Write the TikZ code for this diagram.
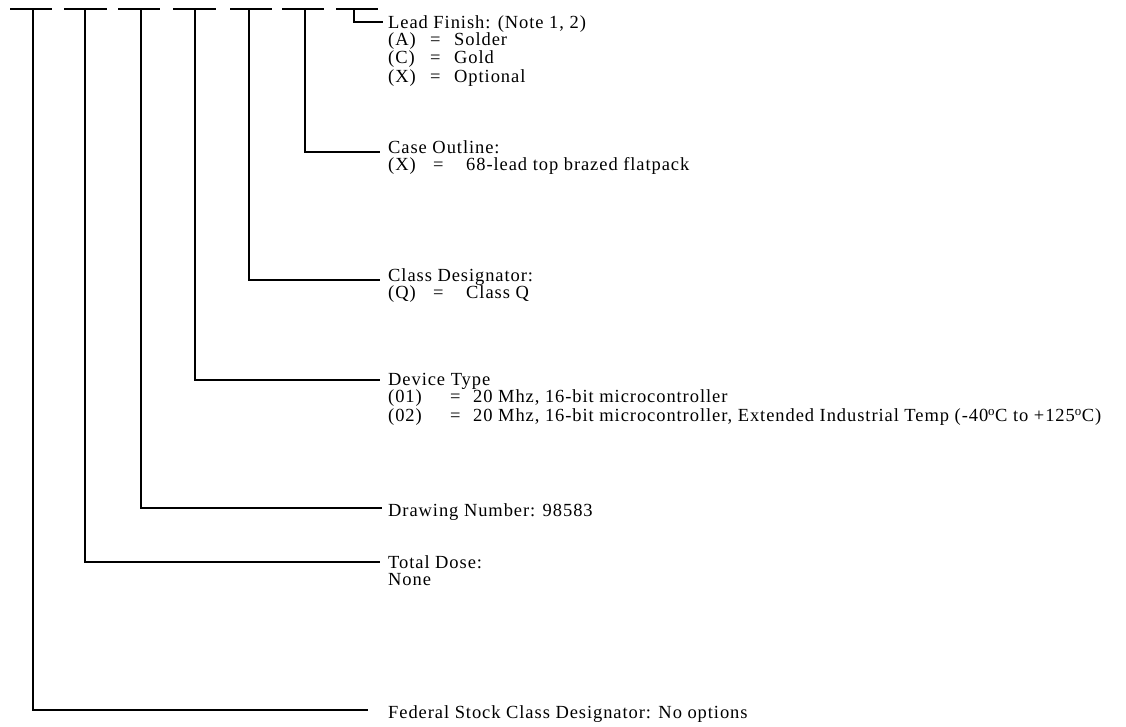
\documentclass[tikz,border=0pt]{standalone}
\usepackage{fontspec}
\setmainfont{Liberation Serif}[LetterSpace=5]
\usetikzlibrary{positioning}
\newcommand{\choice}[4]{\makebox[#1][l]{#3}\makebox[#2][l]{=}#4}
\newcommand{\fieldlines}[1]{\vtop{\baselineskip=17.5pt\lineskiplimit=-100pt\lineskip=0pt
  \halign{##\hfil\cr#1\crcr}}}

\begin{document}
\begin{tikzpicture}[x=1pt,y=-1pt,
  blank/.style={line width=2pt},
  leader/.style={line width=2pt},
  field/.style={anchor=base west,inner sep=0pt,font=\fontsize{18.5}{17.5}\selectfont}]
\useasboundingbox (0,0) rectangle (1126,726);
% blanks of the part number
\foreach \a/\b in {10/52,64/107,118/160,173/216,230/272,282/324,336/378}
  \draw[blank] (\a,9) -- (\b,9);
\foreach \x/\n in {33/fsc,85/dose,141/dwg,195/dev,249/cls,305/case,354/lead}
  \coordinate (\n-top) at (\x,9);
% ends of the leaders
\coordinate (lead-end) at (383,22);
\coordinate (case-end) at (380,152);
\coordinate (cls-end) at (380,280);
\coordinate (dev-end) at (380,380);
\coordinate (dwg-end) at (382,508);
\coordinate (dose-end) at (380,562);
\coordinate (fsc-end) at (368,710);
% field descriptions
\node[field] (lead) at (388,28) {\fieldlines{%
  Lead Finish: (Note 1, 2)\cr
  \choice{42pt}{24pt}{(A)}{Solder}\cr
  \choice{42pt}{24pt}{(C)}{Gold}\cr\noalign{\vskip1.5pt}
  \choice{42pt}{24pt}{(X)}{Optional}}};
\node[field] (case) at (388,153) {\fieldlines{%
  Case Outline:\cr
  \choice{45pt}{33pt}{(X)}{68-lead top brazed flatpack}}};
\node[field] (cls) at (388,281) {\fieldlines{%
  Class Designator:\cr
  \choice{45pt}{33pt}{(Q)}{Class Q}}};
\node[field] (dev) at (388,385) {\fieldlines{%
  Device Type\cr
  \choice{62pt}{23pt}{(01)}{20 Mhz, 16-bit microcontroller}\cr\noalign{\vskip1.5pt}
  \choice{62pt}{23pt}{(02)}{20 Mhz, 16-bit microcontroller, Extended Industrial Temp
    (-40\textsuperscript{o}C to +125\textsuperscript{o}C)}}};
\node[field] (dwg) at (388,516) {Drawing Number: 98583};
\node[field] (dose) at (388,568) {\fieldlines{%
  Total Dose:\cr None}};
\node[field] (fsc) at (388,718) {Federal Stock Class Designator: No options};
% leaders from the blanks
\draw[leader] (lead-top) |- (lead-end);
\draw[leader] (case-top) |- (case-end);
\draw[leader] (cls-top) |- (cls-end);
\draw[leader] (dev-top) |- (dev-end);
\draw[leader] (dwg-top) |- (dwg-end);
\draw[leader] (dose-top) |- (dose-end);
\draw[leader] (fsc-top) |- (fsc-end);
\end{tikzpicture}
\end{document}
